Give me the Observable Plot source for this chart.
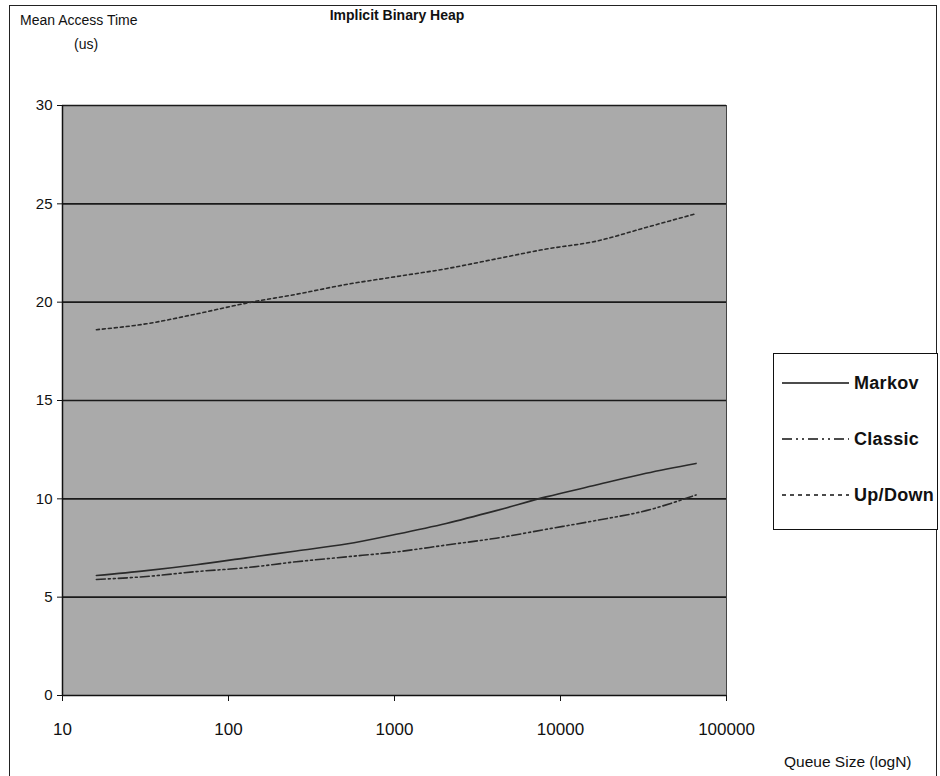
<!DOCTYPE html>
<html>
<head>
<meta charset="utf-8">
<script src="https://cdn.jsdelivr.net/npm/d3@7"></script>
<script src="https://cdn.jsdelivr.net/npm/@observablehq/plot@0.6"></script>
<style>
  html, body { margin: 0; padding: 0; background: #fff; overflow: hidden; }
  #wrap { position: relative; width: 940px; height: 776px; font-family: "Liberation Sans", Arial, sans-serif; color: #111; }
  #wrap svg.plot { position: absolute; left: 0; top: 0; }
  .abs { position: absolute; white-space: nowrap; }
  #frame { position: absolute; left: 9px; top: 5px; width: 928px; height: 800px; border: 1.5px solid #222; box-sizing: border-box; }
  #legend { position: absolute; left: 773px; top: 353px; width: 165px; height: 177px; border: 1.5px solid #111; box-sizing: border-box; background: #fff; }
</style>
</head>
<body>
<div id="wrap">
  <div id="frame"></div>
  <div id="chart"></div>
  <div class="abs" style="left:397px; top:7px; transform:translateX(-50%); font-weight:bold; font-size:14px;">Implicit Binary Heap</div>
  <div class="abs" style="left:20px; top:12px; font-size:14px;">Mean Access Time</div>
  <div class="abs" style="left:74px; top:36px; font-size:14px;">(us)</div>
  <div class="abs" style="left:784px; top:753px; font-size:15.5px;">Queue Size (logN)</div>
  <div id="legend"></div>
</div>
<script>
// ---- data ----
const queueSizes = [16, 32, 64, 128, 256, 512, 1024, 2048, 4096, 8192, 16384, 32768, 65536];
const markov  = [6.1, 6.35, 6.65, 7.0, 7.35, 7.7, 8.2, 8.75, 9.4, 10.1, 10.7, 11.3, 11.8];
const classic = [5.9, 6.05, 6.3, 6.5, 6.8, 7.05, 7.3, 7.65, 8.0, 8.45, 8.9, 9.4, 10.2];
const upDown  = [18.6, 18.9, 19.4, 19.95, 20.4, 20.9, 21.3, 21.7, 22.2, 22.7, 23.1, 23.8, 24.5];
const seriesNames = ["Markov", "Classic", "Up/Down"];
const xTicks = [10, 100, 1000, 10000, 100000];
const yTicks = [0, 5, 10, 15, 20, 25, 30];

const seriesValues = [markov, classic, upDown];
const dashes = {"Markov": null, "Classic": "9,3,2,3,2,3", "Up/Down": "3,3"};
const rows = seriesNames.flatMap((s, i) => queueSizes.map((n, j) => ({series: s, n, t: seriesValues[i][j]})));

const font = "Liberation Sans, Arial, sans-serif";
const plot = Plot.plot({
  width: 940,
  height: 776,
  marginLeft: 62,
  marginRight: 214,
  marginTop: 105,
  marginBottom: 81,
  style: {fontFamily: font, fontSize: "14px", color: "#111", background: "transparent"},
  x: {type: "log", domain: [10, 100000]},
  y: {domain: [0, 30]},
  marks: [
    Plot.frame({fill: "url(#stipple)", stroke: "#444", strokeWidth: 1}),
    Plot.ruleY(yTicks.filter(d => d > 0), {stroke: "#1a1a1a", strokeWidth: 1.6}),
    Plot.ruleX([10], {stroke: "#111", strokeWidth: 1.5}),
    Plot.ruleY([0], {stroke: "#111", strokeWidth: 1.5}),
    ...seriesNames.map(s => Plot.line(rows.filter(r => r.series === s), {
      x: "n", y: "t", stroke: "#2a2a2a", strokeWidth: 1.6,
      strokeDasharray: dashes[s] || undefined, curve: "monotone-x"
    })),
    Plot.axisY({ticks: yTicks, tickSize: 5, tickPadding: 5, label: null, fontSize: 15, stroke: "#111"}),
    Plot.axisX({ticks: xTicks, tickFormat: d => String(d), tickSize: 6, tickPadding: 21, label: null, fontSize: 17, stroke: "#111"})
  ]
});
plot.classList.add("plot");
// stipple pattern
const svg = d3.select(plot);
const defs = svg.insert("defs", ":first-child");
const pat = defs.append("pattern").attr("id", "stipple").attr("width", 2).attr("height", 2).attr("patternUnits", "userSpaceOnUse");
pat.append("rect").attr("width", 2).attr("height", 2).attr("fill", "#c6c6c6");
pat.append("rect").attr("x", 0).attr("y", 0).attr("width", 1).attr("height", 1).attr("fill", "#8e8e8e");
pat.append("rect").attr("x", 1).attr("y", 1).attr("width", 1).attr("height", 1).attr("fill", "#8e8e8e");
document.getElementById("chart").appendChild(plot);

// legend
const leg = d3.select("#legend").append("svg").attr("width", 162).attr("height", 174);
seriesNames.forEach((s, i) => {
  const y = 29 + i * 56;
  leg.append("line").attr("x1", 8).attr("x2", 75).attr("y1", y).attr("y2", y)
    .attr("stroke", "#111").attr("stroke-width", 1.6)
    .attr("stroke-dasharray", dashes[s] ? (s === "Up/Down" ? "4,4" : "10,4,2,4,2,4") : null);
  leg.append("text").attr("x", 80).attr("y", y + 6)
    .attr("font-family", font).attr("font-size", 18).attr("font-weight", "bold")
    .attr("letter-spacing", 0.3).attr("fill", "#111").text(s);
});
</script>
</body>
</html>
